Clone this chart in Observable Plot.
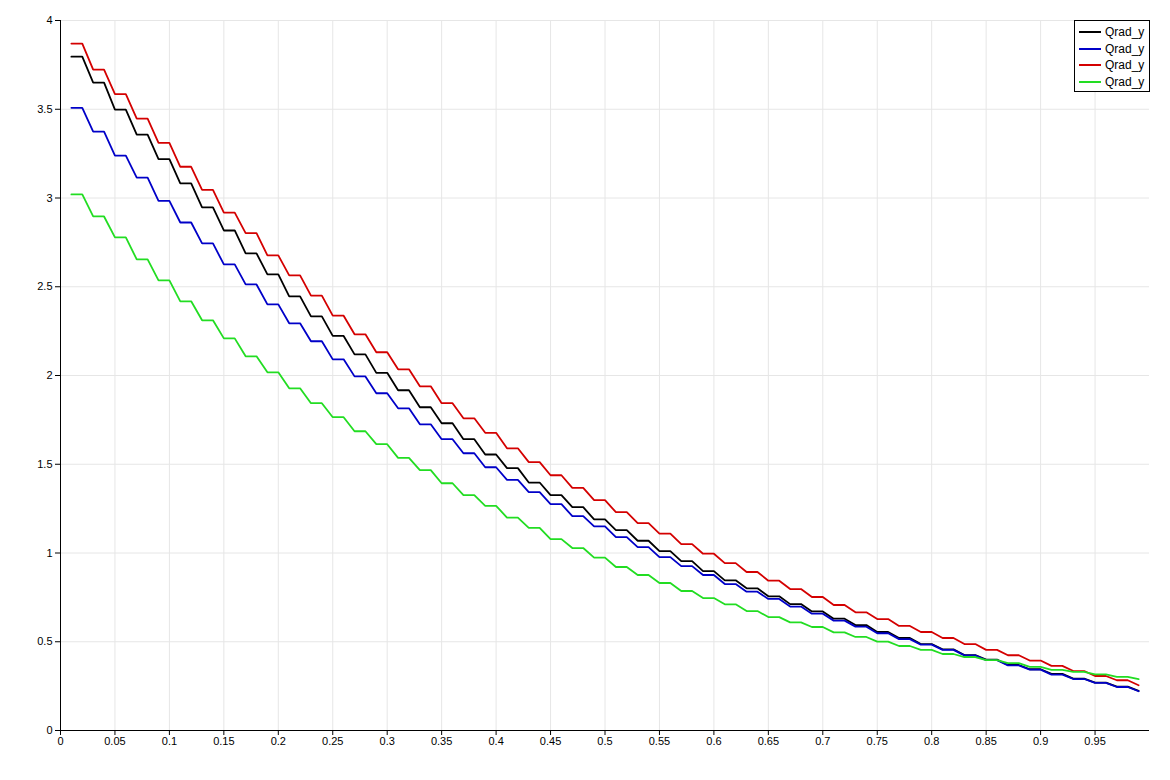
<!DOCTYPE html>
<html>
<head>
<meta charset="utf-8">
<script src="https://cdn.jsdelivr.net/npm/d3@7"></script>
<script src="https://cdn.jsdelivr.net/npm/@observablehq/plot@0.6"></script>
<style>
  html, body { margin: 0; padding: 0; background: #ffffff; }
  #wrap { position: relative; width: 1170px; height: 780px; }
  #legend { position: absolute; left: 1074px; top: 20px; width: 74px; height: 70px;
    border: 1px solid #000; background: #fff; font-family: "Liberation Sans", Arial, sans-serif; font-size: 12px; }
  .item { position: absolute; left: 4px; height: 16px; display: flex; align-items: center; }
  .swatch { width: 22px; height: 2px; margin-right: 4px; }
</style>
</head>
<body>
<div id="wrap"><div id="chart"></div><div id="legend"></div></div>
<script>
const seriesNames = ["Qrad_y", "Qrad_y", "Qrad_y", "Qrad_y"];
const seriesColors = ["#000000", "#0000c8", "#d40000", "#22dd22"];
const xTicks = [0, 0.05, 0.1, 0.15, 0.2, 0.25, 0.3, 0.35, 0.4, 0.45, 0.5, 0.55, 0.6, 0.65, 0.7, 0.75, 0.8, 0.85, 0.9, 0.95];
const yTicks = [0, 0.5, 1, 1.5, 2, 2.5, 3, 3.5, 4];

const xs = [0.01,0.02,0.03,0.04,0.05,0.06,0.07,0.08,0.09,0.10,
0.11,0.12,0.13,0.14,0.15,0.16,0.17,0.18,0.19,0.20,
0.21,0.22,0.23,0.24,0.25,0.26,0.27,0.28,0.29,0.30,
0.31,0.32,0.33,0.34,0.35,0.36,0.37,0.38,0.39,0.40,
0.41,0.42,0.43,0.44,0.45,0.46,0.47,0.48,0.49,0.50,
0.51,0.52,0.53,0.54,0.55,0.56,0.57,0.58,0.59,0.60,
0.61,0.62,0.63,0.64,0.65,0.66,0.67,0.68,0.69,0.70,
0.71,0.72,0.73,0.74,0.75,0.76,0.77,0.78,0.79,0.80,
0.81,0.82,0.83,0.84,0.85,0.86,0.87,0.88,0.89,0.90,
0.91,0.92,0.93,0.94,0.95,0.96,0.97,0.98,0.99];

const black = [3.796,3.796,3.650,3.650,3.498,3.498,3.357,3.357,3.219,3.219,
3.082,3.082,2.947,2.947,2.817,2.817,2.688,2.688,2.570,2.570,
2.446,2.446,2.333,2.333,2.223,2.223,2.119,2.119,2.015,2.015,
1.917,1.917,1.821,1.821,1.731,1.731,1.641,1.641,1.555,1.555,
1.478,1.478,1.397,1.397,1.326,1.326,1.258,1.258,1.189,1.189,
1.129,1.129,1.069,1.069,1.011,1.011,0.954,0.954,0.898,0.898,
0.846,0.846,0.801,0.801,0.756,0.756,0.712,0.712,0.671,0.671,
0.630,0.630,0.594,0.594,0.555,0.555,0.521,0.521,0.487,0.487,
0.457,0.457,0.425,0.425,0.399,0.399,0.369,0.369,0.345,0.345,
0.319,0.319,0.292,0.292,0.270,0.270,0.247,0.247,0.223];

const blue = [3.508,3.508,3.374,3.374,3.239,3.239,3.115,3.115,2.984,2.984,
2.862,2.862,2.744,2.744,2.626,2.626,2.513,2.513,2.401,2.401,
2.294,2.294,2.193,2.193,2.091,2.091,1.995,1.995,1.900,1.900,
1.815,1.815,1.725,1.725,1.641,1.641,1.562,1.562,1.483,1.483,
1.412,1.412,1.343,1.343,1.275,1.275,1.208,1.208,1.150,1.150,
1.089,1.089,1.033,1.033,0.977,0.977,0.926,0.926,0.876,0.876,
0.825,0.825,0.782,0.782,0.741,0.741,0.698,0.698,0.658,0.658,
0.619,0.619,0.585,0.585,0.548,0.548,0.515,0.515,0.484,0.484,
0.454,0.454,0.423,0.423,0.396,0.396,0.367,0.367,0.343,0.343,
0.315,0.315,0.290,0.290,0.268,0.268,0.245,0.245,0.221];

const red = [3.870,3.870,3.723,3.723,3.585,3.585,3.447,3.447,3.311,3.311,
3.176,3.176,3.046,3.046,2.918,2.918,2.802,2.802,2.677,2.677,
2.564,2.564,2.450,2.450,2.337,2.337,2.232,2.232,2.131,2.131,
2.035,2.035,1.939,1.939,1.844,1.844,1.759,1.759,1.677,1.677,
1.590,1.590,1.512,1.512,1.438,1.438,1.367,1.367,1.298,1.298,
1.230,1.230,1.168,1.168,1.109,1.109,1.050,1.050,0.996,0.996,
0.943,0.943,0.893,0.893,0.844,0.844,0.797,0.797,0.752,0.752,
0.707,0.707,0.666,0.666,0.628,0.628,0.589,0.589,0.555,0.555,
0.521,0.521,0.487,0.487,0.454,0.454,0.424,0.424,0.394,0.394,
0.364,0.364,0.335,0.335,0.307,0.307,0.283,0.283,0.255];

const green = [3.020,3.020,2.896,2.896,2.778,2.778,2.654,2.654,2.536,2.536,
2.418,2.418,2.311,2.311,2.209,2.209,2.108,2.108,2.018,2.018,
1.928,1.928,1.844,1.844,1.765,1.765,1.686,1.686,1.613,1.613,
1.536,1.536,1.467,1.467,1.393,1.393,1.326,1.326,1.266,1.266,
1.199,1.199,1.142,1.142,1.078,1.078,1.028,1.028,0.974,0.974,
0.921,0.921,0.876,0.876,0.831,0.831,0.786,0.786,0.746,0.746,
0.711,0.711,0.673,0.673,0.639,0.639,0.609,0.609,0.583,0.583,
0.553,0.553,0.527,0.527,0.501,0.501,0.476,0.476,0.454,0.454,
0.431,0.431,0.414,0.414,0.396,0.396,0.380,0.380,0.358,0.358,
0.342,0.342,0.330,0.330,0.316,0.316,0.302,0.302,0.289];

const allSeries = [black, blue, red, green];
const rows = [];
allSeries.forEach((ys, s) => xs.forEach((x, i) => rows.push({s, x, y: ys[i]})));

const fmt = d => String(d);
const chart = Plot.plot({
  width: 1170,
  height: 780,
  marginLeft: 60,
  marginRight: 21,
  marginTop: 20,
  marginBottom: 50,
  style: { fontFamily: "'Liberation Sans', Arial, sans-serif", fontSize: "11px", background: "#ffffff", color: "#000" },
  x: { domain: [0, 1] },
  y: { domain: [0, 4] },
  marks: [
    Plot.gridX(xTicks, { stroke: "#e6e6e6", strokeOpacity: 1 }),
    Plot.gridY(yTicks, { stroke: "#e6e6e6", strokeOpacity: 1 }),
    Plot.axisX({ ticks: xTicks, tickFormat: fmt, tickSize: 5, tickPadding: 2, label: null, stroke: "#000", fill: "#000" }),
    Plot.axisY({ ticks: yTicks, tickFormat: fmt, tickSize: 5, tickPadding: 3, label: null, stroke: "#000", fill: "#000" }),
    Plot.ruleX([0], { stroke: "#000" }),
    Plot.ruleY([0], { stroke: "#000" }),
    ...allSeries.map((_, s) => Plot.line(rows.filter(r => r.s === s), {
      x: "x", y: "y", stroke: seriesColors[s], strokeWidth: 1.8, strokeLinejoin: "miter"
    }))
  ]
});
document.getElementById("chart").appendChild(chart);

const legend = document.getElementById("legend");
seriesNames.forEach((name, i) => {
  const item = document.createElement("div");
  item.className = "item";
  item.style.top = (3 + i * 16.7) + "px";
  const sw = document.createElement("div");
  sw.className = "swatch";
  sw.style.background = seriesColors[i];
  const t = document.createElement("span");
  t.textContent = name;
  item.appendChild(sw);
  item.appendChild(t);
  legend.appendChild(item);
});
</script>
</body>
</html>
